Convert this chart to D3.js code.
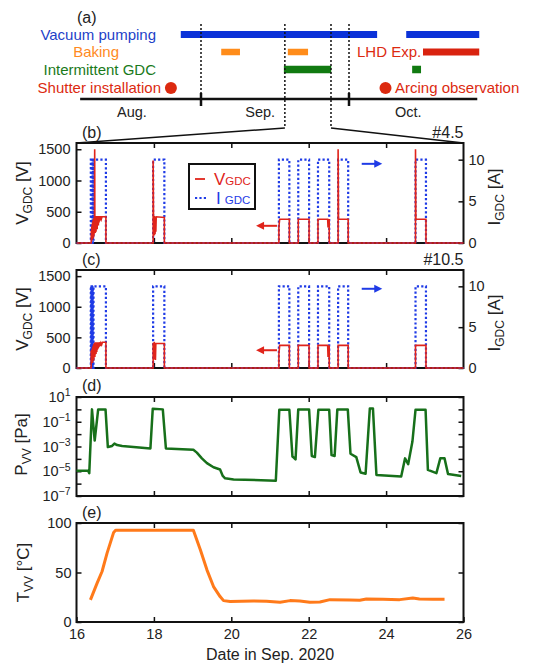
<!DOCTYPE html>
<html>
<head>
<meta charset="utf-8">
<script src="https://cdn.jsdelivr.net/npm/d3@7"></script>
<style>
body { margin: 0; background: #fff; }
svg { font-family: "Liberation Sans", Arial, sans-serif; }
</style>
</head>
<body>
<svg width="533" height="664"></svg>
<script>
// (a) timeline, in days counted from Aug. 1 (Sep. 1 = 31, Oct. 1 = 61)
var vacuumSpans = [[26.9, 66.7], [72.6, 87.4]];
var bakingSpans = [[35.1, 38.9], [48.6, 52.7]];
var gdcSpans = [[47.8, 57.4], [73.8, 75.6]];
var lhdSpans = [[76.0, 87.4]];
var shutterDay = 24.9, arcingDay = 68.4;
var monthEdges = [31, 61];
var monthNames = ["Aug.", "Sep.", "Oct."];
var monthMid = [17, 43, 73];
var zoomWindow = [48.0, 57.35];
var timelineEnds = [6.5, 87.0];

// (b),(c) GDC pulses, date in Sep. 2020
var pulseOn = [16.44, 17.98, 21.23, 21.73, 22.24, 22.76, 24.76];
var pulseOff = [16.76, 18.27, 21.50, 22.01, 22.53, 23.02, 25.03];
var iFlicker = [16.37, 16.38, 16.39, 16.40, 16.415, 16.425, 16.44];
var iOn = 10;

var vB = [[16, 0], [16.38, 0], [16.385, 200], [16.39, 30], [16.395, 260], [16.40, 50], [16.405, 300], [16.41, 80],
  [16.415, 320], [16.42, 60], [16.425, 350], [16.43, 100], [16.435, 370], [16.44, 90], [16.445, 390], [16.45, 120],
  [16.455, 400], [16.46, 150], [16.465, 410], [16.47, 1500], [16.475, 180], [16.48, 420], [16.485, 160], [16.49, 420],
  [16.495, 200], [16.50, 430], [16.505, 180], [16.51, 420], [16.515, 230], [16.52, 430], [16.525, 250], [16.53, 420],
  [16.535, 220], [16.54, 430], [16.545, 280], [16.55, 420], [16.555, 300], [16.56, 430], [16.565, 280], [16.57, 420],
  [16.575, 320], [16.58, 430], [16.59, 340], [16.60, 420], [16.61, 360], [16.62, 430], [16.64, 380], [16.66, 420],
  [16.76, 420], [16.76, 0],
  [17.98, 0], [17.98, 1320], [17.99, 420], [18.01, 420], [18.01, 120], [18.02, 420], [18.03, 140], [18.04, 420],
  [18.05, 180], [18.06, 420], [18.27, 410], [18.27, 0],
  [21.23, 0], [21.23, 260], [21.25, 380], [21.50, 380], [21.50, 0],
  [21.73, 0], [21.73, 380], [22.01, 380], [22.01, 0],
  [22.24, 0], [22.24, 380], [22.49, 380], [22.50, 250], [22.51, 370], [22.53, 370], [22.53, 0],
  [22.76, 0], [22.76, 1500], [22.77, 380], [23.02, 380], [23.02, 0],
  [24.76, 0], [24.76, 1500], [24.77, 380], [25.03, 380], [25.03, 0], [26, 0]];

var vC = [[16, 0], [16.38, 0], [16.38, 280], [16.385, 120], [16.39, 290], [16.395, 90], [16.40, 300], [16.405, 110],
  [16.41, 320], [16.415, 80], [16.42, 340], [16.425, 130], [16.43, 360], [16.435, 150], [16.44, 380], [16.445, 120],
  [16.45, 390], [16.455, 170], [16.46, 400], [16.465, 200], [16.47, 410], [16.475, 180], [16.48, 420], [16.485, 220],
  [16.49, 410], [16.495, 250], [16.50, 420], [16.505, 230], [16.51, 410], [16.515, 270], [16.52, 420], [16.525, 260],
  [16.53, 410], [16.54, 300], [16.55, 420], [16.56, 320], [16.57, 410], [16.58, 340], [16.59, 420], [16.61, 360],
  [16.63, 410], [16.65, 380], [16.67, 420], [16.76, 420], [16.76, 0],
  [17.98, 0], [17.98, 400], [18.01, 410], [18.02, 140], [18.03, 400], [18.04, 130], [18.05, 400], [18.27, 400], [18.27, 0],
  [21.23, 0], [21.23, 230], [21.25, 370], [21.50, 370], [21.50, 0],
  [21.73, 0], [21.73, 370], [22.01, 370], [22.01, 0],
  [22.24, 0], [22.24, 370], [22.49, 370], [22.50, 180], [22.51, 360], [22.53, 360], [22.53, 0],
  [22.76, 0], [22.76, 370], [23.02, 370], [23.02, 0],
  [24.76, 0], [24.76, 370], [25.03, 370], [25.03, 0], [26, 0]];

var arrowsB = {v: [21.18, 20.64, 275], i: [23.37, 23.90, 9.5]};
var arrowsC = {v: [21.18, 20.64, 290], i: [23.37, 23.90, 9.7]};

// (d) vacuum vessel pressure [Pa]
var pDay = [16.00, 16.30, 16.33, 16.40, 16.47, 16.56, 16.75, 16.81, 16.92, 16.98, 17.05, 17.18, 17.91, 17.97,
  18.23, 18.31, 19.02, 19.11, 19.24, 19.37, 19.54, 19.71, 19.78, 19.84, 20.06, 21.15, 21.24, 21.50, 21.58,
  21.60, 21.66, 21.73, 22.01, 22.08, 22.16, 22.25, 22.53, 22.59, 22.67, 22.74, 23.01, 23.08, 23.23, 23.34,
  23.47, 23.58, 23.66, 23.75, 24.39, 24.49, 24.57, 24.68, 24.76, 25.02, 25.08, 25.30, 25.40, 25.51, 25.60, 25.94];
var pVal = [1.1e-5, 1.1e-5, 7e-6, 1.0, 3e-3, 1.0, 1.0, 9e-4, 1.1e-3, 1.7e-3, 1.3e-3, 1.1e-3, 7e-4, 1.1,
  1.0, 7e-4, 5.4e-4, 3.2e-4, 1.1e-4, 4.5e-5, 2.1e-5, 1.4e-5, 4.2e-6, 2.7e-6, 2.2e-6, 1.7e-6, 0.93, 0.93, 1.5e-4,
  1.4e-4, 9e-5, 1.0, 1.0, 1.7e-4, 1.4e-4, 0.93, 0.93, 2e-4, 1.7e-4, 1.0, 1.0, 2.6e-4, 1.4e-4, 8e-6,
  6.3e-6, 1.2, 1.2, 5e-6, 3.7e-6, 1.1e-4, 3.7e-5, 2.5e-3, 0.93, 0.93, 1.3e-5, 7e-6, 1.1e-4, 1.1e-4, 6e-6, 4.2e-6];

// (e) vacuum vessel temperature [degC]
var tDay = [16.36, 16.53, 16.66, 16.79, 16.96, 17.01, 19.02, 19.20, 19.37, 19.54, 19.71, 19.80, 19.97, 20.57,
  20.91, 21.26, 21.52, 21.77, 22.03, 22.29, 22.55, 23.06, 23.32, 23.49, 23.92, 24.35, 24.69, 24.86, 25.21, 25.51];
var tVal = [22.3, 39, 51, 69.6, 90.5, 92.6, 92.6, 73, 52.7, 35.8, 25.7, 21.6, 20.6, 21.3,
  21.0, 19.9, 21.6, 21.3, 19.9, 20.2, 22.6, 22.3, 22.0, 23.3, 23.0, 22.6, 24.3, 23.3, 23.0, 23.0];

var dayTicks = [18, 20, 22, 24];
var dayLabels = [16, 18, 20, 22, 24, 26];

var RED = "#e0241b", BLUE = "#1f3be6", GREEN = "#17701a", ORANGE = "#ff7a1a";
var TXT = "#222";

var svg = d3.select("svg");
var x = d3.scaleLinear().domain([16, 26]).range([76.5, 463.5]);

// ---------- (a) timeline ----------
var tl = d3.scaleLinear().domain([31, 61]).range([201, 349]);
var ga = svg.append("g");

ga.append("text").attr("x", 77).attr("y", 23).attr("font-size", 16).attr("fill", TXT).text("(a)");

function spans(data, y, color, h) {
    ga.selectAll(null).data(data).enter().append("rect")
        .attr("x", function(d) { return tl(d[0]); })
        .attr("width", function(d) { return tl(d[1]) - tl(d[0]); })
        .attr("y", y - h / 2).attr("height", h)
        .attr("fill", color);
}
spans(vacuumSpans, 34.5, "#0b32d8", 7);
spans(bakingSpans, 52, "#ff8c1a", 6.5);
spans(lhdSpans, 52, "#d9230f", 7);
spans(gdcSpans, 69.5, "#117a11", 7.5);

ga.selectAll(null).data([shutterDay, arcingDay]).enter().append("circle")
    .attr("cx", function(d) { return tl(d); }).attr("cy", 88).attr("r", 6)
    .attr("fill", "#dc2a10");

var labelsA = [
    ["Vacuum pumping", 156, 39.5, "end", "#1e3fc8"],
    ["Baking", 119, 57, "end", "#ff8a1e"],
    ["Intermittent GDC", 156, 74.5, "end", "#1a7a1a"],
    ["Shutter installation", 161, 93, "end", "#dc2a10"],
    ["LHD Exp.", 357, 57, "start", "#dc2a10"],
    ["Arcing observation", 395, 93, "start", "#dc2a10"]
];
ga.selectAll(null).data(labelsA).enter().append("text")
    .attr("x", function(d) { return d[1]; }).attr("y", function(d) { return d[2]; })
    .attr("text-anchor", function(d) { return d[3]; })
    .attr("fill", function(d) { return d[4]; })
    .attr("font-size", 15)
    .text(function(d) { return d[0]; });

ga.append("line").attr("x1", tl(timelineEnds[0])).attr("x2", tl(timelineEnds[1]))
    .attr("y1", 99).attr("y2", 99).attr("stroke", "#111").attr("stroke-width", 2.5);
ga.selectAll(null).data(monthEdges).enter().append("line")
    .attr("x1", tl).attr("x2", tl).attr("y1", 93).attr("y2", 106)
    .attr("stroke", "#111").attr("stroke-width", 2.5);
ga.selectAll(null).data(monthEdges).enter().append("line")
    .attr("x1", tl).attr("x2", tl).attr("y1", 24).attr("y2", 99)
    .attr("stroke", "#111").attr("stroke-width", 1.5).attr("stroke-dasharray", "2,2");
ga.selectAll(null).data(zoomWindow).enter().append("line")
    .attr("x1", tl).attr("x2", tl).attr("y1", 24).attr("y2", 128)
    .attr("stroke", "#111").attr("stroke-width", 1.5).attr("stroke-dasharray", "2,2");
ga.selectAll(null).data(monthNames).enter().append("text")
    .attr("x", function(d, i) { return tl(monthMid[i]); }).attr("y", 117)
    .attr("text-anchor", "middle").attr("font-size", 14.5).attr("fill", TXT)
    .text(function(d) { return d; });

// zoom connector lines
ga.append("line").attr("x1", tl(zoomWindow[0])).attr("y1", 128).attr("x2", x(16)).attr("y2", 143)
    .attr("stroke", "#111").attr("stroke-width", 1.5);
ga.append("line").attr("x1", tl(zoomWindow[1])).attr("y1", 128).attr("x2", x(26)).attr("y2", 143)
    .attr("stroke", "#111").attr("stroke-width", 1.5);

// ---------- helpers ----------
function styleAxis(g) {
    g.select(".domain").remove();
    g.selectAll(".tick line").attr("stroke", "#111").attr("stroke-width", 1.5);
    g.selectAll(".tick text").attr("font-size", 14.5).attr("fill", TXT)
        .attr("font-family", "Liberation Sans, Arial, sans-serif");
}

function xTicks(top, bottom, withLabels) {
    svg.append("g").attr("transform", "translate(0," + top + ")")
        .call(d3.axisTop(x).tickValues(dayTicks).tickSize(-5).tickFormat(""))
        .call(styleAxis);
    var ax = d3.axisBottom(x).tickSize(-5).tickPadding(7);
    if (withLabels) ax.tickValues(dayLabels).tickFormat(d3.format("d"));
    else ax.tickValues(dayTicks).tickFormat("");
    svg.append("g").attr("transform", "translate(0," + bottom + ")").call(ax).call(styleAxis);
}

function frame(top, bottom) {
    svg.append("rect").attr("x", x(16)).attr("y", top)
        .attr("width", x(26) - x(16)).attr("height", bottom - top)
        .attr("fill", "none").attr("stroke", "#111").attr("stroke-width", 2);
}

function yLabel(cx, cy, rot, main, sub, unit, fs) {
    var t = svg.append("text")
        .attr("transform", "translate(" + cx + "," + cy + ") rotate(" + rot + ")")
        .attr("text-anchor", "middle").attr("fill", TXT).attr("font-size", fs || 17);
    t.append("tspan").text(main);
    t.append("tspan").attr("font-size", 12).attr("dy", 4).text(sub);
    t.append("tspan").attr("dy", -4).text(unit);
}

function arrow(x1, x2, y, color) {
    var dir = x2 < x1 ? -1 : 1;
    svg.append("line").attr("x1", x1).attr("x2", x2 - dir * 6).attr("y1", y).attr("y2", y)
        .attr("stroke", color).attr("stroke-width", 2);
    svg.append("path")
        .attr("d", "M" + x2 + "," + y + "L" + (x2 - dir * 8) + "," + (y - 4) + "L" + (x2 - dir * 8) + "," + (y + 4) + "Z")
        .attr("fill", color);
}

function currentSeries() {
    var s = [[16, 0]];
    pulseOn.forEach(function(on, k) {
        if (k === 0) {
            var state = 0;
            iFlicker.forEach(function(t) {
                s.push([t, state]);
                state = state ? 0 : iOn;
                s.push([t, state]);
            });
            s.push([on, iOn]);
        } else {
            s.push([on, 0]);
            s.push([on, iOn]);
        }
        s.push([pulseOff[k], iOn]);
        s.push([pulseOff[k], 0]);
    });
    s.push([26, 0]);
    return s;
}

// ---------- (b), (c) ----------
function gdcPanel(top, bottom, vData, arrows, tag, shot) {
    var yV = d3.scaleLinear().domain([0, 1600]).range([bottom, top]);
    var yI = d3.scaleLinear().domain([0, 12]).range([bottom, top]);
    frame(top, bottom);
    xTicks(top, bottom, false);
    svg.append("g").attr("transform", "translate(" + x(16) + ",0)")
        .call(d3.axisLeft(yV).tickValues([0, 500, 1000, 1500]).tickSize(-5).tickPadding(6).tickFormat(d3.format("d")))
        .call(styleAxis);
    svg.append("g").attr("transform", "translate(" + x(26) + ",0)")
        .call(d3.axisRight(yI).tickValues([0, 5, 10]).tickSize(-5).tickPadding(5))
        .call(styleAxis);

    var lineV = d3.line().x(function(d) { return x(d[0]); }).y(function(d) { return yV(d[1]); });
    var lineI = d3.line().x(function(d) { return x(d[0]); }).y(function(d) { return yI(d[1]); });
    svg.append("path").datum(currentSeries()).attr("d", lineI)
        .attr("fill", "none").attr("stroke", BLUE).attr("stroke-width", 2.2)
        .attr("stroke-dasharray", "2.2,2.2");
    svg.append("path").datum(vData).attr("d", lineV)
        .attr("fill", "none").attr("stroke", RED).attr("stroke-width", 1.6);

    arrow(x(arrows.v[0]), x(arrows.v[1]), yV(arrows.v[2]), RED);
    arrow(x(arrows.i[0]), x(arrows.i[1]), yI(arrows.i[2]), BLUE);

    svg.append("text").attr("x", 82).attr("y", top - 5).attr("font-size", 16).attr("fill", TXT).text(tag);
    svg.append("text").attr("x", x(26)).attr("y", top - 5).attr("font-size", 16)
        .attr("text-anchor", "end").attr("fill", TXT).text(shot);

    yLabel(28, (top + bottom) / 2, -90, "V", "GDC", " [V]");
    yLabel(500, (top + bottom) / 2 + 4, -90, "I", "GDC", " [A]");
}

gdcPanel(143, 243, vB, arrowsB, "(b)", "#4.5");
gdcPanel(270, 368, vC, arrowsC, "(c)", "#10.5");

// legend in (b)
var lg = svg.append("g");
lg.append("rect").attr("x", 189).attr("y", 164).attr("width", 66).attr("height", 45)
    .attr("fill", "#fff").attr("stroke", "#111").attr("stroke-width", 2);
lg.append("line").attr("x1", 195).attr("x2", 205).attr("y1", 179).attr("y2", 179)
    .attr("stroke", RED).attr("stroke-width", 1.8);
lg.append("line").attr("x1", 195).attr("x2", 206).attr("y1", 198).attr("y2", 198)
    .attr("stroke", BLUE).attr("stroke-width", 2.2).attr("stroke-dasharray", "2.2,2.2");
var lv = lg.append("text").attr("x", 214).attr("y", 185).attr("fill", RED).attr("font-size", 17);
lv.append("tspan").text("V");
lv.append("tspan").attr("font-size", 11.5).text("GDC");
var li = lg.append("text").attr("x", 216).attr("y", 204).attr("fill", BLUE).attr("font-size", 17);
li.append("tspan").text("I");
li.append("tspan").attr("font-size", 11.5).attr("dx", 4).text("GDC");

// ---------- (d) pressure ----------
(function() {
    var top = 397, bottom = 496;
    var y = d3.scaleLog().domain([1e-7, 1e1]).range([bottom, top]);
    frame(top, bottom);
    xTicks(top, bottom, false);
    var decades = d3.range(-7, 2).map(function(e) { return Math.pow(10, e); });
    var gl = svg.append("g").attr("transform", "translate(" + x(16) + ",0)")
        .call(d3.axisLeft(y).tickValues(decades).tickSize(-5).tickPadding(6).tickFormat(""))
        .call(styleAxis);
    gl.selectAll(".tick text").each(function(d) {
        var e = Math.round(Math.log10(d));
        if ((e + 7) % 2 !== 0) return;
        var t = d3.select(this);
        t.append("tspan").text("10");
        t.append("tspan").attr("font-size", 10.5).attr("dy", "-0.55em").text(String(e).replace("-", "\u2212"));
    });
    svg.append("g").attr("transform", "translate(" + x(26) + ",0)")
        .call(d3.axisRight(y).tickValues(decades).tickSize(-5).tickFormat(""))
        .call(styleAxis);
    var line = d3.line().x(function(d, i) { return x(pDay[i]); }).y(function(d) { return y(d); });
    svg.append("path").datum(pVal).attr("d", line)
        .attr("fill", "none").attr("stroke", GREEN).attr("stroke-width", 2.5).attr("stroke-linejoin", "round");
    svg.append("text").attr("x", 82).attr("y", top - 6).attr("font-size", 16).attr("fill", TXT).text("(d)");
    yLabel(27, (top + bottom) / 2 - 2, -90, "P", "VV", " [Pa]");
})();

// ---------- (e) temperature ----------
(function() {
    var top = 523, bottom = 622;
    var y = d3.scaleLinear().domain([0, 100]).range([bottom, top]);
    frame(top, bottom);
    xTicks(top, bottom, true);
    svg.append("g").attr("transform", "translate(" + x(16) + ",0)")
        .call(d3.axisLeft(y).tickValues([0, 50, 100]).tickSize(-5).tickPadding(5))
        .call(styleAxis);
    svg.append("g").attr("transform", "translate(" + x(26) + ",0)")
        .call(d3.axisRight(y).tickValues([0, 50, 100]).tickSize(-5).tickFormat(""))
        .call(styleAxis);
    var line = d3.line().x(function(d, i) { return x(tDay[i]); }).y(function(d) { return y(d); });
    svg.append("path").datum(tVal).attr("d", line)
        .attr("fill", "none").attr("stroke", ORANGE).attr("stroke-width", 3).attr("stroke-linejoin", "round");
    svg.append("text").attr("x", 82).attr("y", top - 5).attr("font-size", 16).attr("fill", TXT).text("(e)");
    yLabel(29, (top + bottom) / 2, -90, "T", "VV", " [\u00b0C]");
    svg.append("text").attr("x", (x(16) + x(26)) / 2).attr("y", 660)
        .attr("text-anchor", "middle").attr("font-size", 16).attr("fill", TXT).text("Date in Sep. 2020");
})();
</script>
</body>
</html>
